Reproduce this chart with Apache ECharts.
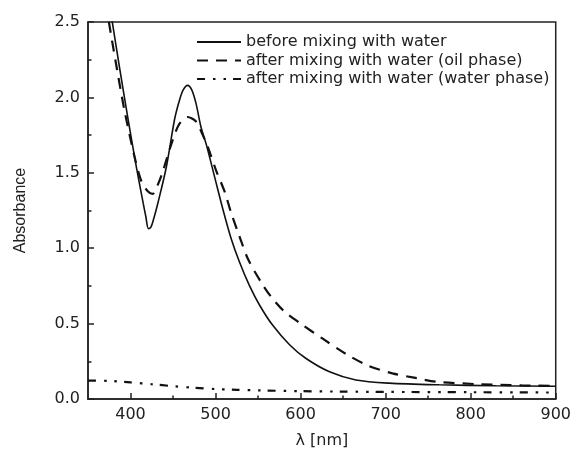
<!DOCTYPE html>
<html>
<head>
<meta charset="utf-8">
<script src="https://cdn.jsdelivr.net/npm/echarts@6/dist/echarts.min.js"></script>
<style>html,body{margin:0;padding:0;background:#fff}#c{width:574px;height:454px}</style>
</head>
<body>
<div id="c"></div>
<script>
const seriesNames = ['before mixing with water', 'after mixing with water (oil phase)', 'after mixing with water (water phase)'];
const xMajorTicks = [400, 500, 600, 700, 800, 900];
const xMinorTicks = [450, 550, 650, 750, 850];
const yTicks = [0, 0.5, 1.0, 1.5, 2.0, 2.5];

const beforeX = [372, 378, 387, 397, 407, 415, 418, 421, 424, 427, 432, 442, 452, 458, 462, 467, 472, 477, 483, 489, 499, 509, 518, 528, 540, 552, 567, 587, 606, 634, 665, 704, 763, 830, 900];
const beforeY = [2.73, 2.52, 2.2, 1.86, 1.535, 1.295, 1.21, 1.13, 1.14, 1.19, 1.295, 1.535, 1.86, 1.99, 2.05, 2.08, 2.05, 1.96, 1.8, 1.69, 1.47, 1.25, 1.07, 0.91, 0.75, 0.62, 0.49, 0.36, 0.27, 0.18, 0.126, 0.105, 0.094, 0.088, 0.085];

const oilX = [368, 374, 384, 393, 405, 413, 420, 426, 432, 438, 448, 457, 467, 477, 485, 491, 501, 511, 518, 528, 538, 554, 565, 580, 600, 626, 653, 680, 708, 735, 759, 810, 860, 900];
const oilY = [2.75, 2.52, 2.19, 1.91, 1.6, 1.44, 1.38, 1.36, 1.42, 1.51, 1.69, 1.82, 1.87, 1.84, 1.75, 1.67, 1.51, 1.37, 1.24, 1.08, 0.93, 0.77, 0.68, 0.585, 0.5, 0.4, 0.3, 0.22, 0.17, 0.14, 0.115, 0.098, 0.09, 0.087];

const waterX = [350, 375, 400, 425, 450, 475, 500, 525, 550, 600, 650, 700, 800, 900];
const waterY = [0.122, 0.12, 0.11, 0.098, 0.085, 0.074, 0.066, 0.061, 0.057, 0.052, 0.049, 0.047, 0.045, 0.043];

const pairs = (xs, ys) => xs.map((x, i) => [x, ys[i]]);
const ink = '#111';
const axisFont = { fontFamily: 'DejaVu Sans', fontSize: 16, color: '#222' };

const chart = echarts.init(document.getElementById('c'), null, { renderer: 'canvas' });
chart.setOption({
  animation: false,
  backgroundColor: '#fff',
  grid: { left: 88, right: 16, top: 22, bottom: 50, show: true, borderColor: '#222', borderWidth: 1.5, backgroundColor: 'transparent' },
  legend: {
    orient: 'vertical', left: 191, top: 29, itemWidth: 44, itemHeight: 14, itemGap: 2.5,
    itemStyle: { opacity: 0 },
    textStyle: { fontFamily: 'DejaVu Sans', fontSize: 16, color: '#222' },
    data: seriesNames
  },
  xAxis: [{
    type: 'value', min: 350, max: 900, position: 'bottom',
    name: 'λ [nm]', nameLocation: 'middle', nameGap: 34,
    nameTextStyle: { fontFamily: 'DejaVu Sans', fontSize: 16, color: '#222' },
    axisLine: { show: true, lineStyle: { color: '#222', width: 1.5 } },
    axisTick: { show: true, inside: true, length: 6, lineStyle: { color: '#222', width: 1.5 }, customValues: xMajorTicks },
    axisLabel: Object.assign({ margin: 8, customValues: xMajorTicks }, axisFont),
    splitLine: { show: false }
  }, {
    type: 'value', min: 350, max: 900, position: 'bottom', gridIndex: 0,
    axisLine: { show: false },
    axisTick: { show: true, inside: true, length: 3.5, lineStyle: { color: '#222', width: 1.5 }, customValues: xMinorTicks },
    axisLabel: { show: false, customValues: xMinorTicks },
    splitLine: { show: false }
  }],
  yAxis: {
    type: 'value', min: 0, max: 2.5, interval: 0.5,
    name: 'Absorbance', nameLocation: 'middle', nameGap: 59,
    nameTextStyle: { fontFamily: 'Liberation Sans', fontSize: 16, color: '#222' },
    axisLine: { show: true, lineStyle: { color: '#222', width: 1.5 } },
    axisTick: { show: true, inside: true, length: 6, lineStyle: { color: '#222', width: 1.5 }, customValues: yTicks },
    minorTick: { show: true, splitNumber: 2, length: 3.5, lineStyle: { color: '#222', width: 1.5 } },
    axisLabel: Object.assign({ margin: 8, formatter: v => v.toFixed(1) }, axisFont),
    splitLine: { show: false }
  },
  series: [{
    name: seriesNames[0], type: 'line', data: pairs(beforeX, beforeY), showSymbol: false, symbol: 'none',
    smooth: 0.3, clip: true, lineStyle: { color: ink, width: 1.6, type: 'solid' }, itemStyle: { color: ink }
  }, {
    name: seriesNames[1], type: 'line', data: pairs(oilX, oilY), showSymbol: false, symbol: 'none',
    smooth: 0.3, clip: true, lineStyle: { color: ink, width: 2.2, type: [11, 8] }, itemStyle: { color: ink }
  }, {
    name: seriesNames[2], type: 'line', data: pairs(waterX, waterY), showSymbol: false, symbol: 'none',
    smooth: 0.3, clip: true, lineStyle: { color: ink, width: 2.2, type: [8, 8, 2.5, 8, 2.5, 7] }, itemStyle: { color: ink }
  }]
});
</script>
</body>
</html>
